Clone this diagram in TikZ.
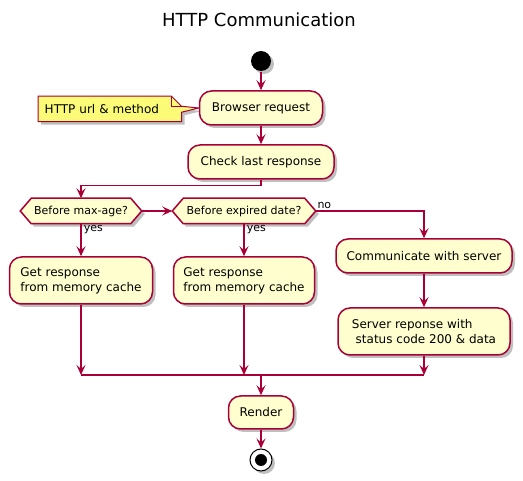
\documentclass[tikz,border=0pt]{standalone}
\usepackage{fontspec}
\setmainfont{DejaVu Sans}
\usetikzlibrary{arrows.meta, calc, shadows, backgrounds}
\definecolor{pred}{HTML}{A80036}
\definecolor{pfill}{HTML}{FEFECE}
\definecolor{pnote}{HTML}{FBFB77}
\tikzset{
  every picture/.style={line width=1.5pt},
  shade/.style={drop shadow={shadow xshift=3pt, shadow yshift=-3pt, opacity=0.25, fill=black}},
  act/.style={draw=pred, fill=pfill, rounded corners=12pt, align=left, inner sep=0pt,
              font=\fontsize{12}{15}\selectfont, shade},
  cond/.style={inner sep=0pt, minimum height=24pt, font=\fontsize{11}{13}\selectfont},
  hexa/.style={draw=pred, fill=pfill, line width=1.5pt, shade},
  lbl/.style={inner sep=1pt, font=\fontsize{11}{13}\selectfont},
  arrow/.style={-{Stealth[length=10pt, width=9pt, inset=4pt]}, draw=pred},
  flow/.style={draw=pred},
}

\begin{document}
\begin{tikzpicture}[x=1pt, y=-1pt]
  \useasboundingbox (0,0) rectangle (523,481);
  \node[font=\fontsize{18}{22}\selectfont] (title) at (259,20) {HTTP Communication};

  % start / stop
  \node[circle, fill=black, minimum size=20pt, inner sep=0pt, shade] (start) at (261,61) {};
  \node[act, minimum width=123pt, minimum height=34pt] (req) at (261,108) {Browser request};
  \node[act, minimum width=146pt, minimum height=34pt] (chk) at (261,162) {Check last response};

  % note
  \node[inner xsep=6pt, inner ysep=0pt, text width=130pt, align=left, minimum height=24pt,
        font=\fontsize{12}{15}\selectfont, anchor=west] (nt) at (38,109) {HTTP url \& method};
  \begin{scope}[on background layer]
    \filldraw[draw=pred, fill=pnote, line width=1pt, shade]
      (nt.north west) -- ($(nt.north east)+(-10,0)$) -- ($(nt.north east)+(0,10)$)
      -- (req.west) -- ($(nt.north east)+(0,16)$) -- (nt.south east) -- (nt.south west) -- cycle;
    \draw[draw=pred, line width=1pt] ($(nt.north east)+(-10,0)$) -- ($(nt.north east)+(-10,10)$) -- ($(nt.north east)+(0,10)$);
  \end{scope}

  % decisions
  \node[cond, minimum width=120pt] (maxage) at (81,211) {Before max-age?};
  \node[cond, minimum width=142pt] (expired) at (244,211) {Before expired date?};
  \begin{scope}[on background layer]
    \foreach \d in {maxage, expired} {
      \filldraw[hexa] (\d.west) -- ($(\d.north west)+(11,0)$) -- ($(\d.north east)+(-11,0)$)
        -- (\d.east) -- ($(\d.south east)+(-11,0)$) -- ($(\d.south west)+(11,0)$) -- cycle;
    }
  \end{scope}

  \node[act, minimum width=143pt, minimum height=47pt] (mem1) at (81,280.5) {Get response\\from memory cache};
  \node[act, minimum width=141pt, minimum height=47pt] (mem2) at (244,280.5) {Get response\\from memory cache};
  \node[act, minimum width=176pt, minimum height=34pt] (comm) at (424,256) {Communicate with server};
  \node[act, minimum width=172pt, minimum height=47pt] (srv) at (424,331.5) {Server reponse with\\\mbox{}\ status code 200 \& data};
  \coordinate (mrg) at (261,375);
  \node[act, minimum width=65pt, minimum height=33pt] (render) at (261,412.5) {Render};
  \node[circle, draw=black, fill=white, line width=1pt, minimum size=22pt, inner sep=0pt, shade] (stop) at (261,460) {};
  \fill (stop.center) circle (6pt);

  % connectors
  \draw[arrow] (start) -- (req);
  \draw[arrow] (req) -- (chk);
  \draw[arrow] (chk.south) -- ++(0,6) -| (maxage.north);
  \draw[arrow] (maxage.east) -- (expired.west);
  \draw[arrow] (expired.east) -| (comm.north);
  \node[lbl, anchor=south west] at ($(expired.east)+(0,-1)$) {no};
  \draw[arrow] (maxage.south) -- (mem1.north);
  \node[lbl, anchor=north west] at ($(maxage.south)+(1,0)$) {yes};
  \draw[arrow] (expired.south) -- (mem2.north);
  \node[lbl, anchor=north west] at ($(expired.south)+(1,0)$) {yes};
  \draw[arrow] (comm) -- (srv);
  \draw[arrow] (mem1.south) -- (mem1.south |- mrg);
  \draw[arrow] (mem2.south) -- (mem2.south |- mrg);
  \draw[arrow] (srv.south) -- (srv.south |- mrg);
  \draw[flow] (mem1.south |- mrg) -- (srv.south |- mrg);
  \draw[arrow] (mrg) -- (render);
  \draw[arrow] (render) -- (stop);
\end{tikzpicture}
\end{document}
